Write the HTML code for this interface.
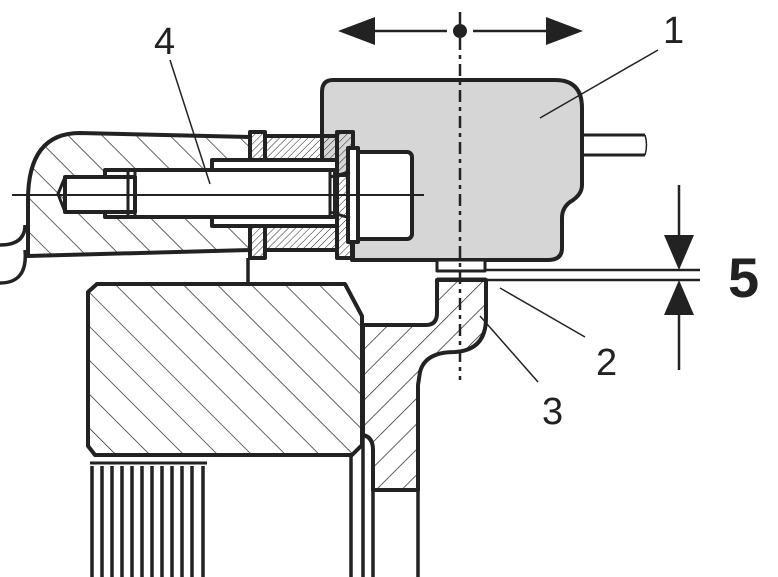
<!DOCTYPE html>
<html><head><style>
html,body{margin:0;padding:0;background:#fff;}
svg{display:block}
text{font-family:"Liberation Sans",sans-serif;fill:#222}
</style></head><body>
<svg width="778" height="577" viewBox="0 0 778 577" xmlns="http://www.w3.org/2000/svg">
<defs>
<pattern id="hA" patternUnits="userSpaceOnUse" width="18" height="18" patternTransform="rotate(45)">
<line x1="0" y1="0" x2="0" y2="18" stroke="#222" stroke-width="1.4"/></pattern>
<pattern id="hB" patternUnits="userSpaceOnUse" width="18" height="18" patternTransform="rotate(-45)">
<line x1="0" y1="0" x2="0" y2="18" stroke="#222" stroke-width="1.4"/></pattern>
<pattern id="hD" patternUnits="userSpaceOnUse" width="24" height="24" patternTransform="rotate(-45)">
<line x1="0" y1="0" x2="0" y2="24" stroke="#222" stroke-width="1.4"/></pattern>
<pattern id="hC" patternUnits="userSpaceOnUse" width="5" height="5" patternTransform="rotate(45)">
<line x1="0" y1="0" x2="0" y2="5" stroke="#222" stroke-width="1"/></pattern>
</defs>
<g stroke="#222" stroke-width="4" fill="none" stroke-linejoin="round">
<!-- sensor -->
<path d="M333,80 H555 Q582,80 582,108 V185 Q582,195 570,202 Q562,208 562,218 V248 Q562,260 548,260 H352 V175 H322 V92 Q322,80 333,80 Z" fill="#d6d6d6"/>
<path d="M582,135 H645 M582,155 H645" stroke-width="3"/>
<path d="M645,135 Q648,145 645,155" stroke-width="1.5"/>
<rect x="437" y="260" width="48" height="11" fill="#fff" stroke-width="3"/>
<!-- bracket -->
<path d="M80,133 L250,137 V250 L28,256 V200 Q28,133 80,133 Z" fill="url(#hD)"/>
<path d="M25,225 Q25,245 0,245 M25,250 Q28,283 0,283" stroke-width="3.5"/>
<!-- washers, sleeve, nut -->
<rect x="250" y="132" width="15" height="126" fill="url(#hC)"/>
<rect x="265" y="136" width="72" height="114" fill="url(#hC)"/>
<rect x="337" y="132" width="16" height="126" fill="url(#hC)"/>
<rect x="212" y="160" width="125" height="66" fill="#fff"/>
<rect x="355" y="152" width="57" height="87" rx="5" fill="#fff"/>
<rect x="348" y="148" width="10" height="94" fill="#fff"/>
<!-- bolt -->
<rect x="105" y="170" width="230" height="47" fill="#fff"/>
<rect x="65" y="177" width="70" height="35" fill="#fff"/>
<path d="M65,177 L58,194 L65,212" stroke-width="3"/>
<path d="M128,172 V215 M135,172 V215 M330,172 V215 M330,177 L350,172 M330,212 L350,218" stroke-width="3"/>
<line x1="12" y1="195" x2="424" y2="195" stroke-width="2"/>
<!-- stem -->
<line x1="248" y1="258" x2="248" y2="284" stroke-width="3.5"/>
<!-- big block -->
<path d="M97,284 H345 L362,316 V445 L352,455 H95 L88,446 V292 Z" fill="url(#hD)"/>
<!-- part 3 flange -->
<path d="M363,325 H426 Q437,325 437,313 V280 H486 V318 Q486,350 455,352 Q425,352 420,372 L418,385 V490 H373 V450 Q373,437 363,435 Z" fill="url(#hA)"/>
<path d="M363,435 V577 M373,450 V577 M418,490 V577 M351,455 V577" stroke-width="3.5"/>
<line x1="437" y1="279" x2="486" y2="279" stroke-width="3"/>
<!-- comb -->
<path d="M90,463 H207" stroke-width="3"/>
<g stroke-width="3.5">
<path d="M92,466V577M102,466V577M112,466V577M122,466V577M132,466V577M142,466V577M152,466V577M162,466V577M172,466V577M182,466V577M192,466V577M203,466V577"/>
</g>
<!-- gap lines -->
<path d="M485,270 H700 M486,280 H700" stroke-width="2.5"/>
<!-- centerline -->
<line x1="460" y1="12" x2="460" y2="380" stroke-width="2.5" stroke-dasharray="12,5,4,5"/>
<!-- top arrow -->
<path d="M372,31 H447 M473,31 H550" stroke-width="2.5"/>
</g>
<circle cx="460" cy="31" r="7" fill="#222"/>
<path d="M338,31 L375,17 L375,45 Z M583,31 L546,17 L546,45 Z" fill="#222"/>
<!-- dimension 5 -->
<g stroke="#222" stroke-width="2.5">
<line x1="679" y1="185" x2="679" y2="240"/>
<line x1="679" y1="310" x2="679" y2="370"/>
</g>
<path d="M679,270 L664,235 L694,235 Z M679,280 L664,315 L694,315 Z" fill="#222"/>
<text x="728" y="297" font-size="56" font-weight="bold" fill="#000">5</text>
<!-- leaders -->
<g stroke="#222" stroke-width="1.5">
<line x1="658" y1="50" x2="540" y2="118"/>
<line x1="500" y1="288" x2="585" y2="337"/>
<line x1="480" y1="316" x2="538" y2="382"/>
<line x1="170" y1="60" x2="210" y2="184"/>
</g>
<text x="663" y="43" font-size="38">1</text>
<text x="596" y="375" font-size="38">2</text>
<text x="542" y="424" font-size="38">3</text>
<text x="154" y="54" font-size="38">4</text>
</svg>
</body></html>
